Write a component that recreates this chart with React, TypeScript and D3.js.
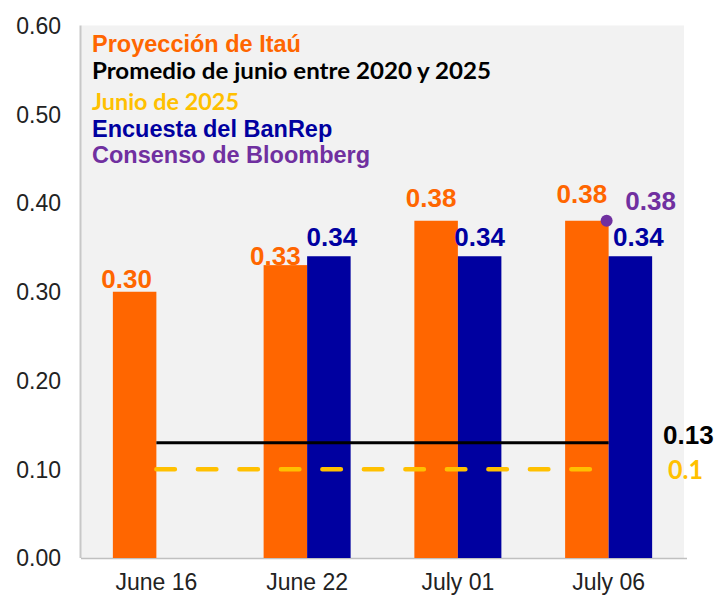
import React from "react";
import * as d3 from "d3";

const categories = ["June 16", "June 22", "July 01", "July 06"];
const itauValues = [0.3, 0.33, 0.38, 0.38];
const banrepValues: (number | null)[] = [null, 0.34, 0.34, 0.34];
const bloombergValues: (number | null)[] = [null, null, null, 0.38];
const avgJune = 0.13;
const june2025 = 0.1;
const yTicks = [0, 0.1, 0.2, 0.3, 0.4, 0.5, 0.6];
const itauLabelNudgeX = [-8, -10, -5, -5];
const itauLabelNudgeY = [4, 8, -6, -10];

const legendItems = [
  { text: "Proyección de Itaú", color: "#FF6600", font: "Liberation Sans, Arial, sans-serif" },
  { text: "Promedio de junio entre 2020 y 2025", color: "#000000", font: "Lato, sans-serif", len: 399 },
  { text: "Junio de 2025", color: "#FFC000", font: "Lato, sans-serif", len: 147 },
  { text: "Encuesta del BanRep", color: "#0000A0", font: "Liberation Sans, Arial, sans-serif" },
  { text: "Consenso de Bloomberg", color: "#7030A0", font: "Liberation Sans, Arial, sans-serif" },
];
const legendBaselines = [52, 79, 110, 137, 163];

const W = 720;
const H = 596;
const left = 81;
const right = 684;
const top = 25.5;
const bottom = 558;

const ORANGE = "#FF6600";
const BLUE = "#0000A0";
const YELLOW = "#FFC000";
const PURPLE = "#7030A0";
const ARIAL = "Liberation Sans, Arial, sans-serif";

export default function App() {
  const x = d3.scaleBand<string>().domain(categories).range([left, right]).padding(0);
  const y = d3.scaleLinear().domain([0, 0.6]).range([bottom, top]);
  const bw = x.bandwidth() * 0.2886;
  const cx = (c: string) => (x(c) as number) + x.bandwidth() / 2;
  const x0 = cx(categories[0]);
  const x1 = cx(categories[categories.length - 1]);
  const lineGen = d3.line<[number, number]>().x((d) => d[0]).y((d) => d[1]);

  return (
    <svg width={W} height={H} style={{ position: "absolute", left: 0, top: 0 }}>
      <rect x={0} y={0} width={W} height={H} fill="#ffffff" />
      <rect x={left} y={top} width={right - left} height={bottom - top} fill="#F2F2F2" />
      <line x1={left - 0.5} x2={left - 0.5} y1={top} y2={bottom} stroke="#C8C8C8" strokeWidth={2} />
      <line x1={left} x2={right + 3} y1={bottom + 0.5} y2={bottom + 0.5} stroke="#C0C0C0" strokeWidth={1.5} />

      {yTicks.map((t) => (
        <text key={t} x={61} y={y(t)} dy="0.36em" textAnchor="end" fontFamily={ARIAL} fontSize={23} fill="#222">
          {t.toFixed(2)}
        </text>
      ))}

      {categories.map((c) => (
        <text key={c} x={cx(c)} y={590} textAnchor="middle" fontFamily={ARIAL} fontSize={23} fill="#222">
          {c}
        </text>
      ))}

      {categories.map((c, i) => (
        <rect key={"o" + c} x={cx(c) - bw} y={y(itauValues[i])} width={bw} height={bottom - y(itauValues[i])} fill={ORANGE} />
      ))}
      {categories.map((c, i) =>
        banrepValues[i] == null ? null : (
          <rect key={"b" + c} x={cx(c)} y={y(banrepValues[i] as number)} width={bw} height={bottom - y(banrepValues[i] as number)} fill={BLUE} />
        )
      )}

      <path d={lineGen([[x0, y(avgJune)], [x1, y(avgJune)]]) as string} stroke="#000" strokeWidth={3} fill="none" />
      <path
        d={lineGen([[x0, y(june2025)], [x1, y(june2025)]]) as string}
        stroke={YELLOW}
        strokeWidth={4.5}
        strokeDasharray="18.5 23"
        strokeLinecap="round"
        fill="none"
      />

      {categories.map((c, i) => (
        <text
          key={"ol" + c}
          x={cx(c) - bw / 2 + itauLabelNudgeX[i]}
          y={y(itauValues[i]) - 8 + itauLabelNudgeY[i]}
          textAnchor="middle"
          fontFamily={ARIAL}
          fontWeight="bold"
          fontSize={26}
          fill={ORANGE}
        >
          {itauValues[i].toFixed(2)}
        </text>
      ))}
      {categories.map((c, i) =>
        banrepValues[i] == null ? null : (
          <text
            key={"bl" + c}
            x={cx(c) + bw / 2 + (i === 3 ? 8 : i === 1 ? 3 : 0)}
            y={y(banrepValues[i] as number) - 10}
            textAnchor="middle"
            fontFamily={ARIAL}
            fontWeight="bold"
            fontSize={26}
            fill={BLUE}
          >
            {(banrepValues[i] as number).toFixed(2)}
          </text>
        )
      )}
      {categories.map((c, i) =>
        bloombergValues[i] == null ? null : (
          <g key={"p" + c}>
            <circle cx={cx(c) - 2} cy={y(bloombergValues[i] as number)} r={6} fill={PURPLE} />
            <text
              x={cx(c) + 42}
              y={y(bloombergValues[i] as number) - 11}
              textAnchor="middle"
              fontFamily={ARIAL}
              fontWeight="bold"
              fontSize={26}
              fill={PURPLE}
            >
              {(bloombergValues[i] as number).toFixed(2)}
            </text>
          </g>
        )
      )}

      <text x={663} y={y(avgJune) + 1} fontFamily={ARIAL} fontWeight="bold" fontSize={26} fill="#000">
        {avgJune.toFixed(2)}
      </text>
      <text x={668} y={y(june2025) + 10} fontFamily="Lato, sans-serif" fontWeight="bold" fontSize={26} fill={YELLOW} textLength={35} lengthAdjust="spacingAndGlyphs">
        {String(june2025)}
      </text>

      {legendItems.map((it, i) => (
        <text
          key={it.text}
          x={92}
          y={legendBaselines[i]}
          fontFamily={it.font}
          fontWeight="bold"
          fontSize={it.len ? 23 : 23.5}
          fill={it.color}
          textLength={it.len}
          lengthAdjust={it.len ? "spacingAndGlyphs" : undefined}
        >
          {it.text}
        </text>
      ))}
    </svg>
  );
}
